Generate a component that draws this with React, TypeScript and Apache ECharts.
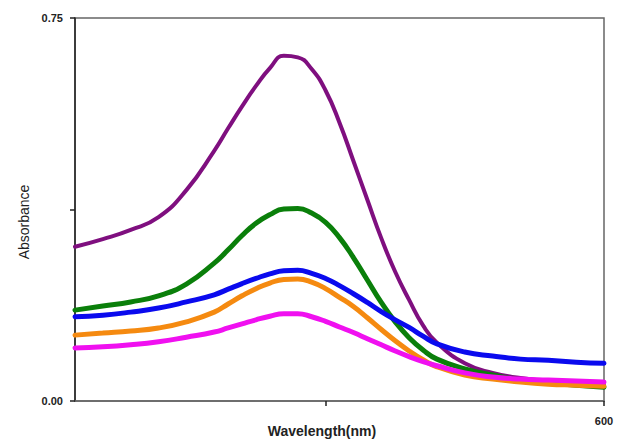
import React, { useEffect, useRef } from "react";
import * as echarts from "echarts";

// Wavelength grid (nm), shared by every spectrum
const wavelengths = [
  410, 420, 430, 440, 450, 460, 465, 470, 475, 480, 485, 490, 495, 500,
  505, 510, 515, 520, 525, 530, 535, 540, 550, 560, 570, 580, 590, 600,
];

// Absorbance spectra
const purpleSpectrum = [
  0.302, 0.317, 0.335, 0.360, 0.413, 0.490, 0.534, 0.577, 0.617, 0.652,
  0.676, 0.673, 0.650, 0.608, 0.545, 0.470, 0.394, 0.319, 0.253, 0.198,
  0.148, 0.114, 0.074, 0.055, 0.045, 0.039, 0.035, 0.031,
];
const greenSpectrum = [
  0.178, 0.186, 0.194, 0.206, 0.229, 0.270, 0.296, 0.324, 0.348, 0.365,
  0.376, 0.377, 0.368, 0.350, 0.320, 0.281, 0.237, 0.193, 0.155, 0.124,
  0.100, 0.082, 0.063, 0.051, 0.041, 0.036, 0.031, 0.027,
];
const orangeSpectrum = [
  0.129, 0.133, 0.137, 0.143, 0.155, 0.174, 0.190, 0.206, 0.220, 0.231,
  0.238, 0.239, 0.233, 0.220, 0.203, 0.185, 0.163, 0.140, 0.118, 0.098,
  0.081, 0.067, 0.051, 0.043, 0.037, 0.033, 0.031, 0.029,
];
const blueSpectrum = [
  0.165, 0.168, 0.174, 0.182, 0.194, 0.208, 0.219, 0.230, 0.240, 0.249,
  0.255, 0.256, 0.250, 0.240, 0.226, 0.210, 0.193, 0.175, 0.159, 0.144,
  0.127, 0.112, 0.096, 0.088, 0.082, 0.080, 0.076, 0.074,
];
const magentaSpectrum = [
  0.104, 0.106, 0.110, 0.116, 0.125, 0.135, 0.143, 0.151, 0.159, 0.166,
  0.171, 0.171, 0.165, 0.156, 0.145, 0.134, 0.122, 0.110, 0.098, 0.087,
  0.077, 0.069, 0.055, 0.047, 0.043, 0.041, 0.039, 0.037,
];

const yTickValues = [0, 0.375, 0.75];
const yLabelValues = [0, 0.75];
const xTickValues = [500, 600];
const xLabelValues = [600];
const xTitle = "Wavelength(nm)";
const yTitle = "Absorbance";

const spectra = [
  { values: purpleSpectrum, color: "#7f0f7f", width: 4 },
  { values: greenSpectrum, color: "#0a7f0a", width: 5 },
  { values: orangeSpectrum, color: "#f58a10", width: 5 },
  { values: blueSpectrum, color: "#0a0aee", width: 5 },
  { values: magentaSpectrum, color: "#f010f0", width: 5 },
];

const FONT = "Liberation Sans, Arial, sans-serif";

export default function App() {
  const ref = useRef<HTMLDivElement>(null);

  useEffect(() => {
    if (!ref.current) return;
    const chart = echarts.init(ref.current, undefined, { renderer: "svg" });
    const labelFont = {
      fontFamily: FONT,
      fontWeight: "bold" as const,
      fontSize: 11,
      color: "#222",
    };
    chart.setOption({
      animation: false,
      backgroundColor: "#ffffff",
      grid: {
        left: 75,
        right: 13,
        top: 18,
        bottom: 38,
        show: true,
        borderColor: "#666",
        borderWidth: 1.5,
      },
      graphic: [
        {
          type: "text",
          x: 322,
          y: 431,
          style: {
            text: xTitle,
            fontFamily: FONT,
            fontWeight: "bold",
            fontSize: 14,
            fill: "#222",
            align: "center",
            verticalAlign: "middle",
          },
        },
        {
          type: "text",
          x: 24,
          y: 222,
          rotation: Math.PI / 2,
          style: {
            text: yTitle,
            fontFamily: FONT,
            fontSize: 14,
            fill: "#222",
            align: "center",
            verticalAlign: "middle",
          },
        },
      ],
      xAxis: {
        type: "value",
        min: 410,
        max: 600,
        splitLine: { show: false },
        axisLine: { lineStyle: { color: "#666", width: 1.5 } },
        axisTick: {
          customValues: xTickValues,
          length: 5,
          lineStyle: { color: "#222", width: 1.5 },
        },
        axisLabel: {
          customValues: xLabelValues,
          margin: 14,
          ...labelFont,
        },
      },
      yAxis: {
        type: "value",
        min: 0,
        max: 0.75,
        splitLine: { show: false },
        axisLine: { lineStyle: { color: "#222", width: 1.5 } },
        axisTick: {
          customValues: yTickValues,
          length: 5,
          lineStyle: { color: "#222", width: 1.5 },
        },
        axisLabel: {
          customValues: yLabelValues,
          margin: 12,
          formatter: (v: number) => v.toFixed(2),
          ...labelFont,
        },
      },
      series: spectra.map((s) => ({
        type: "line",
        smooth: 0.5,
        showSymbol: false,
        data: wavelengths.map((w, i) => [w, s.values[i]]),
        lineStyle: { color: s.color, width: s.width, cap: "round", join: "round" },
        itemStyle: { color: s.color },
      })),
    });
    return () => chart.dispose();
  }, []);

  return (
    <div
      ref={ref}
      style={{ position: "absolute", left: 0, top: 0, width: 617, height: 439 }}
    />
  );
}
